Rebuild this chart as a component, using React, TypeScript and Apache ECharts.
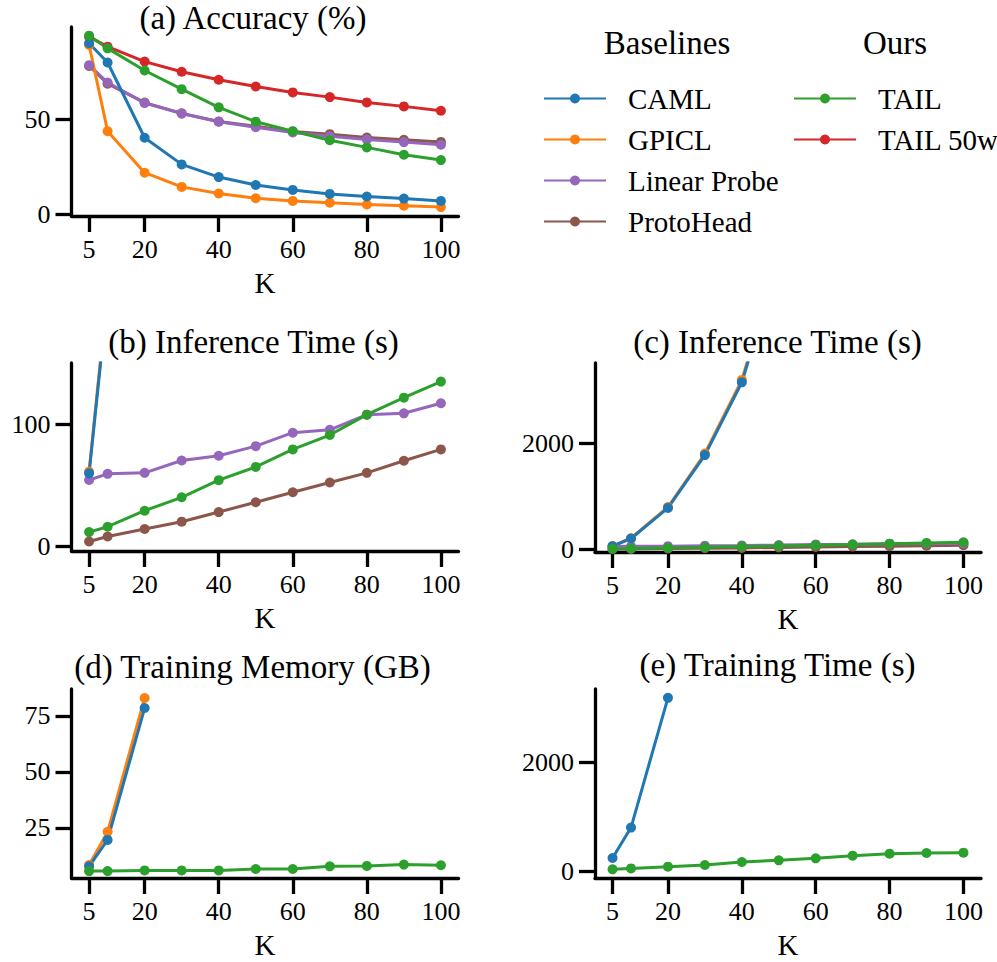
import React, { useEffect, useRef } from "react";
import * as echarts from "echarts";

const K = [5, 10, 20, 30, 40, 50, 60, 70, 80, 90, 100];
const xTicks = [5, 20, 40, 60, 80, 100];

// (a) Accuracy (%)
const accCAML = [90.4, 80.2, 40.4, 26.3, 19.6, 15.4, 12.8, 10.7, 9.3, 8.2, 7.0];
const accGPICL = [89.5, 43.9, 21.9, 14.4, 10.9, 8.4, 7.0, 6.0, 5.1, 4.4, 3.7];
const accLinear = [78.8, 69.6, 58.8, 53.2, 48.9, 46.0, 43.2, 41.2, 39.5, 38.1, 36.7];
const accProto = [78.4, 69.0, 59.0, 53.3, 49.0, 46.5, 43.7, 42.3, 40.5, 39.3, 38.2];
const accTAIL = [94.4, 87.7, 76.0, 66.1, 56.5, 48.9, 43.9, 39.1, 35.3, 31.4, 28.6];
const accTAIL50 = [93.8, 88.6, 80.7, 75.3, 71.1, 67.5, 64.4, 61.9, 59.1, 57.0, 54.7];

// (b)/(c) Inference Time (s)
const infCAML = [59.7, 205, 782, 1780, 3155, 5450];
const infGPICL = [61, 210, 800, 1810, 3200, 5550];
const infLinear = [54.2, 59.2, 60.0, 70.1, 74.0, 81.9, 92.9, 95.3, 107.7, 108.8, 117.0];
const infProto = [3.8, 7.9, 14.0, 20.0, 27.9, 35.9, 44.1, 52.1, 60.0, 69.9, 79.2];
const infTAIL = [11.5, 15.9, 29.0, 40.0, 54.0, 64.9, 79.2, 91.0, 107.7, 121.6, 134.8];

// (d) Training Memory (GB)
const memCAML = [7.8, 19.6, 78.5];
const memGPICL = [8.4, 23.2, 83.0];
const memTAIL = [5.7, 5.7, 6.0, 6.0, 6.0, 6.6, 6.6, 7.8, 8.0, 8.6, 8.3];

// (e) Training Time (s)
const trainCAML = [240, 800, 3188];
const trainTAIL = [31, 49, 80, 111, 166, 197, 234, 283, 320, 332, 338];

const yTicksA = [0, 50];
const yTicksB = [0, 100];
const yTicksC = [0, 2000];
const yTicksD = [25, 50, 75];
const yTicksE = [0, 2000];

const COLORS: Record<string, string> = {
  CAML: "#1f77b4",
  GPICL: "#ff7f0e",
  "Linear Probe": "#9467bd",
  ProtoHead: "#8c564b",
  TAIL: "#2ca02c",
  "TAIL 50w": "#d62728",
};

const FONT = "Liberation Serif";

const grids = [
  { left: 71.5, top: 27, width: 387, height: 189 },
  { left: 71.5, top: 363, width: 387, height: 188 },
  { left: 595, top: 363, width: 386, height: 189 },
  { left: 71.5, top: 689, width: 387, height: 189 },
  { left: 595, top: 689, width: 386, height: 189 },
];

const yRanges = [
  { min: -1, max: 99, ticks: yTicksA },
  { min: -4, max: 150, ticks: yTicksB },
  { min: -50, max: 3520, ticks: yTicksC },
  { min: 2.6, max: 87, ticks: yTicksD },
  { min: -128, max: 3350, ticks: yTicksE },
];

function pairs(vals: number[]) {
  return vals.map((v, i) => [K[i], v]);
}

function mkSeries(name: string, vals: number[], idx: number) {
  return {
    type: "line",
    name,
    xAxisIndex: idx,
    yAxisIndex: idx,
    data: pairs(vals),
    symbol: "circle",
    symbolSize: 10,
    showSymbol: true,
    clip: true,
    lineStyle: { width: 3, color: COLORS[name] },
    itemStyle: { color: COLORS[name] },
  };
}

export default function App() {
  const ref = useRef<HTMLDivElement>(null);
  useEffect(() => {
    document.body.style.margin = "0";
    if (!ref.current) return;
    const chart = echarts.init(ref.current, undefined, { renderer: "svg" });

    const axisLine = { show: true, onZero: false, lineStyle: { color: "#000", width: 3.3 } };
    const fmt = (v: number) => String(v);
    const xAxes = grids.map((_, i) => ({
      type: "value",
      gridIndex: i,
      min: 0.25,
      max: 104.75,
      axisLine,
      axisTick: { show: true, length: 16, lineStyle: { color: "#000", width: 3.3 }, customValues: xTicks },
      axisLabel: { show: true, customValues: xTicks, formatter: fmt, color: "#000", fontSize: 26, fontFamily: FONT, margin: 20 },
      splitLine: { show: false },
      name: "K",
      nameLocation: "middle",
      nameGap: 52,
      nameTextStyle: { color: "#000", fontSize: 29, fontFamily: FONT },
    }));
    const yAxes = grids.map((_, i) => ({
      type: "value",
      gridIndex: i,
      min: yRanges[i].min,
      max: yRanges[i].max,
      axisLine,
      axisTick: { show: true, length: 16, lineStyle: { color: "#000", width: 3.3 }, customValues: yRanges[i].ticks },
      axisLabel: { show: true, customValues: yRanges[i].ticks, formatter: fmt, color: "#000", fontSize: 26, fontFamily: FONT, margin: 21 },
      splitLine: { show: false },
    }));

    const series: any[] = [
      mkSeries("TAIL 50w", accTAIL50, 0),
      mkSeries("ProtoHead", accProto, 0),
      mkSeries("Linear Probe", accLinear, 0),
      mkSeries("GPICL", accGPICL, 0),
      mkSeries("CAML", accCAML, 0),
      mkSeries("TAIL", accTAIL, 0),
      mkSeries("ProtoHead", infProto, 1),
      mkSeries("Linear Probe", infLinear, 1),
      mkSeries("GPICL", infGPICL, 1),
      mkSeries("CAML", infCAML, 1),
      mkSeries("TAIL", infTAIL, 1),
      mkSeries("ProtoHead", infProto, 2),
      mkSeries("Linear Probe", infLinear, 2),
      mkSeries("GPICL", infGPICL, 2),
      mkSeries("CAML", infCAML, 2),
      mkSeries("TAIL", infTAIL, 2),
      mkSeries("GPICL", memGPICL, 3),
      mkSeries("CAML", memCAML, 3),
      mkSeries("TAIL", memTAIL, 3),
      mkSeries("CAML", trainCAML, 4),
      mkSeries("TAIL", trainTAIL, 4),
    ];

    const titleStyle = (text: string, x: number, y: number, size = 33) => ({
      type: "text",
      x,
      y,
      style: {
        text,
        fill: "#000",
        fontSize: size,
        fontFamily: FONT,
        align: "center",
        verticalAlign: "middle",
      },
      silent: true,
    });

    const legendCommon = {
      orient: "vertical",
      top: 84,
      padding: 0,
      itemWidth: 62,
      itemHeight: 12.5,
      itemGap: 12,
      selectedMode: false,
      textStyle: { color: "#000", fontSize: 29, fontFamily: FONT, padding: [0, 0, 0, 17] },
    };

    chart.setOption({
      animation: false,
      grid: grids.map((g) => ({ ...g, containLabel: false })),
      xAxis: xAxes,
      yAxis: yAxes,
      series,
      legend: [
        { ...legendCommon, left: 543, data: ["CAML", "GPICL", "Linear Probe", "ProtoHead"] },
        { ...legendCommon, left: 793, data: ["TAIL", "TAIL 50w"] },
      ],
      graphic: [
        titleStyle("(a) Accuracy (%)", 253, 18),
        titleStyle("(b) Inference Time (s)", 253.5, 342),
        titleStyle("(c) Inference Time (s)", 777.5, 342),
        titleStyle("(d) Training Memory (GB)", 252.5, 667),
        titleStyle("(e) Training Time (s)", 777.5, 665),
        titleStyle("Baselines", 667, 43),
        titleStyle("Ours", 895, 43),
      ],
    });
    return () => chart.dispose();
  }, []);
  return <div ref={ref} style={{ width: 997, height: 962 }} />;
}
